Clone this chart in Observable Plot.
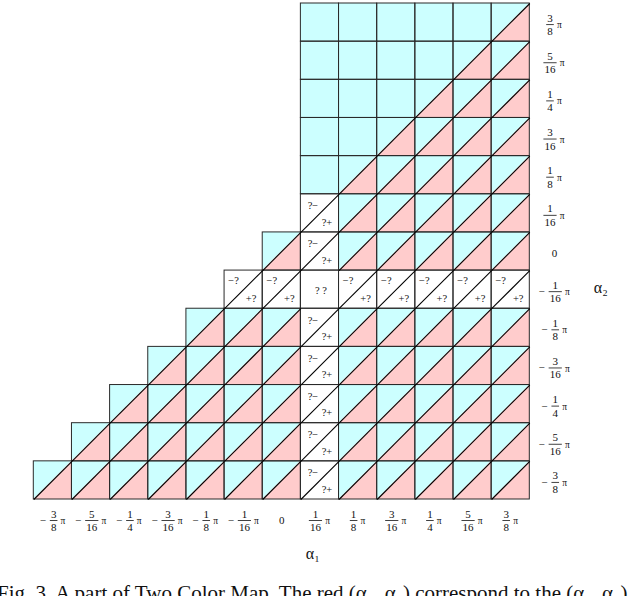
<!DOCTYPE html>
<html>
<head>
<meta charset="utf-8">
<script src="https://cdn.jsdelivr.net/npm/d3@7"></script>
<script src="https://cdn.jsdelivr.net/npm/@observablehq/plot@0.6"></script>
<style>
  html, body { margin: 0; padding: 0; background: #fff; }
  body { width: 640px; height: 596px; overflow: hidden; position: relative; }
  #chart svg { display: block; }
  #cap { position: absolute; left: -3px; top: 583px; white-space: nowrap;
         font-family: 'Liberation Serif', serif; font-size: 21px; line-height: 21px; color: #111; }
</style>
</head>
<body>
<div id="chart"></div>
<div id="cap">Fig. 3. A part of Two Color Map. The red (α₁, α₂) correspond to the (α₁, α₂)</div>
<script>
// α values in units of π/16
const alpha1 = [-6, -5, -4, -3, -2, -1, 0, 1, 2, 3, 4, 5, 6];
const alpha2Rows = [6, 5, 4, 3, 2, 1, 0, -1, -2, -3, -4, -5, -6]; // top to bottom
// cell kinds per α2 row (columns = alpha1):
// C full cyan, S cyan/red split, Q "?−/?+", R "−?/+?", X "? ?", space = no cell
const cellRows = [
  "       CCCCCS",
  "       CCCCSS",
  "       CCCSSS",
  "       CCSSSS",
  "       CSSSSS",
  "       QSSSSS",
  "      SQSSSSS",
  "     RRXRRRRR",
  "    SSSQSSSSS",
  "   SSSSQSSSSS",
  "  SSSSSQSSSSS",
  " SSSSSSQSSSSS",
  "SSSSSSSQSSSSS"
];
// tick labels for values -6..6 (× π/16)
const tickSign = ["−", "−", "−", "−", "−", "−", "", "", "", "", "", "", ""];
const tickNum  = ["3", "5", "1", "3", "1", "1", "0", "1", "1", "3", "1", "5", "3"];
const tickDen  = ["8", "16", "4", "16", "8", "16", "", "16", "8", "16", "4", "16", "8"];

const CYAN = "#ccffff", PINK = "#ffcccc", LINE = "#2a2a2a";

const cells = [];
cellRows.forEach((row, r) => [...row].forEach((t, c) => {
  if (t !== " ") cells.push({a: alpha1[c], b: alpha2Rows[r], t});
}));
const colored = cells.filter(d => d.t === "C" || d.t === "S");
const blank = cells.filter(d => d.t === "Q" || d.t === "R" || d.t === "X");
const split = cells.filter(d => d.t === "S");
const diag = cells.filter(d => d.t === "S" || d.t === "Q" || d.t === "R");
const pinkPts = split.flatMap((d, i) => [
  {id: i, x: d.a - 0.5, y1: d.b - 0.5, y2: d.b - 0.5},
  {id: i, x: d.a + 0.5, y1: d.b - 0.5, y2: d.b + 0.5}
]);

const ticks = alpha1.map((v, i) => ({v, sign: tickSign[i], num: tickNum[i], den: tickDen[i]}));

function barSymbol(w) {
  return {draw(ctx) { ctx.moveTo(-w / 2, 0); ctx.lineTo(w / 2, 0); }};
}

// fraction-style tick labels; pos: {x, y} accessors, base dx/dy pixel offsets
function fracMarks(pos, bx, by) {
  const fs = 11, digit = 5.6;
  const marks = [];
  const zero = ticks.filter(d => d.den === "");
  marks.push(Plot.text(zero, {...pos, text: d => d.num, dx: bx, dy: by, fontSize: fs}));
  for (const neg of [true, false]) for (const len of [1, 2]) {
    const g = ticks.filter(d => d.den !== "" && (d.sign !== "") === neg && d.den.length === len);
    if (!g.length) continue;
    const fw = len * digit + 1;
    const total = (neg ? 10.5 : 0) + fw + 3 + 6;
    const left = -total / 2;
    const fc = left + (neg ? 10.5 : 0) + fw / 2;
    const pc = fc + fw / 2 + 3 + 3;
    if (neg) marks.push(Plot.text(g, {...pos, text: d => d.sign, dx: bx + left + 3, dy: by, fontSize: fs}));
    marks.push(Plot.text(g, {...pos, text: d => d.num, dx: bx + fc, dy: by - 6.5, fontSize: fs}));
    marks.push(Plot.text(g, {...pos, text: d => d.den, dx: bx + fc, dy: by + 7, fontSize: fs}));
    marks.push(Plot.dot(g, {...pos, symbol: barSymbol(fw + 1), stroke: "#111", strokeWidth: 0.8, dx: bx + fc, dy: by}));
    marks.push(Plot.text(g, {...pos, text: () => "π", dx: bx + pc, dy: by + 0.5, fontSize: fs - 1.5}));
  }
  return marks;
}

const chart = Plot.plot({
  width: 640, height: 570,
  marginTop: 3, marginBottom: 71, marginLeft: 33.3, marginRight: 110.7,
  x: {domain: [-6.5, 6.5], axis: null},
  y: {domain: [-6.5, 6.5], axis: null},
  style: {fontFamily: "'Liberation Serif', 'DejaVu Serif', serif", background: "white", color: "#111"},
  marks: [
    Plot.rect(colored, {x1: d => d.a - 0.5, x2: d => d.a + 0.5, y1: d => d.b - 0.5, y2: d => d.b + 0.5, fill: CYAN}),
    Plot.rect(blank, {x1: d => d.a - 0.5, x2: d => d.a + 0.5, y1: d => d.b - 0.5, y2: d => d.b + 0.5, fill: "white"}),
    Plot.areaY(pinkPts, {x: "x", y1: "y1", y2: "y2", z: "id", fill: PINK}),
    Plot.rect(cells, {x1: d => d.a - 0.5, x2: d => d.a + 0.5, y1: d => d.b - 0.5, y2: d => d.b + 0.5, fill: "none", stroke: LINE, strokeWidth: 1}),
    Plot.link(diag, {x1: d => d.a - 0.5, y1: d => d.b - 0.5, x2: d => d.a + 0.5, y2: d => d.b + 0.5, stroke: "#000", strokeWidth: 1.1}),
    Plot.text(cells.filter(d => d.t === "Q"), {x: "a", y: "b", text: () => "?−", dx: -7, dy: -7.5, fontSize: 10.5}),
    Plot.text(cells.filter(d => d.t === "Q"), {x: "a", y: "b", text: () => "?+", dx: 7, dy: 9, fontSize: 10.5}),
    Plot.text(cells.filter(d => d.t === "R"), {x: "a", y: "b", text: () => "−?", dx: -10, dy: -9, fontSize: 10.5}),
    Plot.text(cells.filter(d => d.t === "R"), {x: "a", y: "b", text: () => "+?", dx: 7.5, dy: 9, fontSize: 10.5}),
    Plot.text(cells.filter(d => d.t === "X"), {x: "a", y: "b", text: () => "? ?", dx: 1, dy: 1, fontSize: 10.5}),
    ...fracMarks({x: d => d.v, y: () => -6.5}, 0, 21),
    ...fracMarks({x: () => 6.5, y: d => d.v}, 24.7, 2),
    Plot.text(["α₁"], {frameAnchor: "bottom", text: d => d, dx: 31, dy: 59, fontSize: 16}),
    Plot.text(["α₂"], {frameAnchor: "right", text: d => d, dx: 78, dy: 36, fontSize: 16})
  ]
});
document.getElementById("chart").append(chart);
</script>
</body>
</html>
